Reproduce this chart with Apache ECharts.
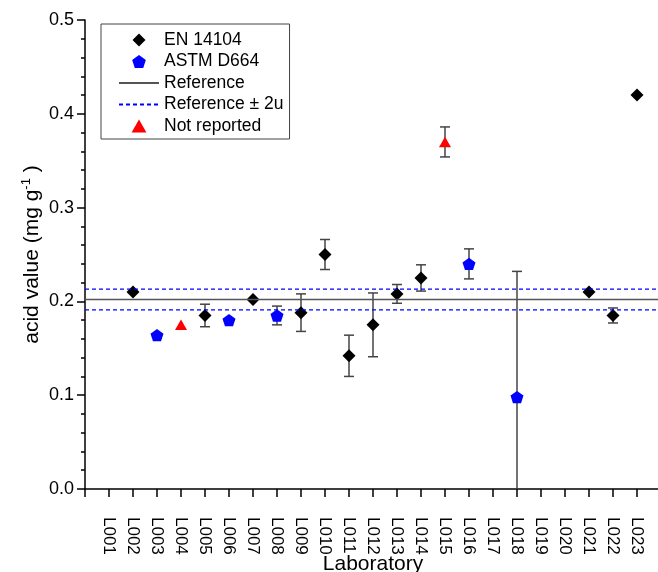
<!DOCTYPE html>
<html>
<head>
<meta charset="utf-8">
<script src="https://cdn.jsdelivr.net/npm/echarts@6/dist/echarts.min.js"></script>
<style>
  html, body { margin: 0; padding: 0; background: #fff; }
  #chart { width: 658px; height: 572px; }
</style>
</head>
<body>
<div id="chart"></div>
<script>
// Participating laboratories, in axis order
const labs = ['L001','L002','L003','L004','L005','L006','L007','L008','L009','L010','L011','L012',
              'L013','L014','L015','L016','L017','L018','L019','L020','L021','L022','L023'];

// Results by EN 14104 (value and expanded uncertainty, mg/g)
const enLabs   = ['L002','L005','L007','L009','L010','L011','L012','L013','L014','L021','L022','L023'];
const enValues = [0.210, 0.185, 0.202, 0.188, 0.250, 0.142, 0.175, 0.208, 0.225, 0.210, 0.185, 0.420];
const enU      = [0,     0.012, 0,     0.020, 0.016, 0.022, 0.034, 0.010, 0.014, 0,     0.008, 0];

// Results by ASTM D664
const astmLabs   = ['L003','L006','L008','L016','L018'];
const astmValues = [0.164, 0.180, 0.185, 0.240, 0.098];
const astmU      = [0,     0,     0.010, 0.016, 0.134];

// Method not reported
const nrLabs   = ['L004','L015'];
const nrValues = [0.175, 0.370];
const nrU      = [0,     0.016];

// Reference value and its expanded uncertainty (2u)
const refValue = 0.202;
const refU2 = 0.011;

// Axis range
const yMin = 0, yMax = 0.5, yStep = 0.1;
const xMin = 0, xMax = 24;

const FONT = '"Liberation Sans", Arial, sans-serif';

const SYM_DIAMOND  = 'path://M0,-1L1,0L0,1L-1,0Z';
const SYM_PENTAGON = 'path://M0,-1L0.951,-0.309L0.588,0.809L-0.588,0.809L-0.951,-0.309Z';
const SYM_TRIANGLE = 'path://M0,-1L1,0.75L-1,0.75Z';

const xOf = lab => labs.indexOf(lab) + 1;
const points = (labList, values) => labList.map((l, i) => [xOf(l), values[i]]);

// Error bars for every result that carries an uncertainty
const errData = [];
[[enLabs, enValues, enU], [astmLabs, astmValues, astmU], [nrLabs, nrValues, nrU]].forEach(([ls, vs, us]) => {
  ls.forEach((l, i) => { if (us[i] > 0) errData.push([xOf(l), vs[i], us[i]]); });
});

const chart = echarts.init(document.getElementById('chart'), null, { renderer: 'canvas' });

const axisLineStyle = { color: '#000', width: 1.5 };
const noSymbol = { color: 'rgba(0,0,0,0)' };

chart.setOption({
  animation: false,
  backgroundColor: '#fff',
  textStyle: { fontFamily: FONT },
  grid: { left: 85, top: 20, width: 576, height: 469, containLabel: false, outerBoundsMode: 'none' },
  legend: {
    left: 101, top: 24,
    orient: 'vertical',
    padding: [7, 6, 4, 17],
    itemGap: 3.5,
    itemWidth: 40,
    itemHeight: 13,
    borderColor: '#444',
    borderWidth: 1,
    textStyle: { fontFamily: FONT, fontSize: 17.5, color: '#000', lineHeight: 17 },
    data: ['EN 14104', 'ASTM D664', 'Reference', 'Reference ± 2u', 'Not reported']
  },
  xAxis: {
    type: 'value',
    min: xMin, max: xMax, interval: 1,
    name: 'Laboratory',
    nameLocation: 'middle',
    nameGap: 65,
    nameMoveOverlap: false,
    nameTextStyle: { fontFamily: FONT, fontSize: 21, color: '#000' },
    axisLine: { onZero: false, lineStyle: axisLineStyle },
    axisTick: { length: 8, lineStyle: axisLineStyle },
    axisLabel: {
      rotate: -90,
      margin: 28,
      fontFamily: FONT, fontSize: 17, color: '#000',
      formatter: v => (v >= 1 && v <= labs.length) ? labs[v - 1] : ''
    },
    splitLine: { show: false }
  },
  yAxis: {
    type: 'value',
    min: yMin, max: yMax, interval: yStep,
    name: 'acid value (mg g{sup|-1} )',
    nameLocation: 'middle',
    nameGap: 40,
    nameMoveOverlap: false,
    nameTextStyle: {
      fontFamily: FONT, fontSize: 21, color: '#000',
      rich: { sup: { fontFamily: FONT, fontSize: 13, color: '#000', verticalAlign: 'top', padding: [0, 0, 12, 0] } }
    },
    axisLine: { show: true, lineStyle: axisLineStyle },
    axisTick: { length: 8, lineStyle: axisLineStyle },
    minorTick: { show: true, splitNumber: 5, length: 4, lineStyle: axisLineStyle },
    axisLabel: {
      margin: 11,
      fontFamily: FONT, fontSize: 18, color: '#000',
      formatter: v => v.toFixed(1)
    },
    splitLine: { show: false },
    minorSplitLine: { show: false }
  },
  series: [
    {
      name: 'Reference', type: 'line', symbol: 'none', silent: true,
      lineStyle: { color: '#555', width: 1.5 },
      itemStyle: noSymbol,
      data: [[xMin, refValue], [xMax, refValue]]
    },
    {
      name: 'Reference ± 2u', type: 'line', symbol: 'none', silent: true,
      lineStyle: { color: '#0000ff', width: 1.2, type: [4, 3] },
      itemStyle: noSymbol,
      data: [[xMin, refValue + refU2], [xMax, refValue + refU2]]
    },
    {
      name: 'Reference ± 2u', type: 'line', symbol: 'none', silent: true,
      lineStyle: { color: '#0000ff', width: 1.2, type: [4, 3] },
      itemStyle: noSymbol,
      data: [[xMin, refValue - refU2], [xMax, refValue - refU2]]
    },
    {
      name: 'error', type: 'custom', clip: true, silent: true,
      encode: { x: 0, y: 1 },
      data: errData,
      renderItem: (params, api) => {
        const x = api.value(0), v = api.value(1), u = api.value(2);
        const top = api.coord([x, v + u]);
        const bot = api.coord([x, v - u]);
        const hw = 5;
        const style = { stroke: '#444', lineWidth: 1.5, fill: null };
        return {
          type: 'group',
          children: [
            { type: 'line', shape: { x1: top[0], y1: top[1], x2: bot[0], y2: bot[1] }, style },
            { type: 'line', shape: { x1: top[0] - hw, y1: top[1], x2: top[0] + hw, y2: top[1] }, style },
            { type: 'line', shape: { x1: bot[0] - hw, y1: bot[1], x2: bot[0] + hw, y2: bot[1] }, style }
          ]
        };
      }
    },
    {
      name: 'EN 14104', type: 'scatter',
      symbol: SYM_DIAMOND, symbolSize: 13, symbolKeepAspect: true,
      itemStyle: { color: '#000', opacity: 1 },
      data: points(enLabs, enValues)
    },
    {
      name: 'ASTM D664', type: 'scatter',
      symbol: SYM_PENTAGON, symbolSize: 13, symbolKeepAspect: true,
      itemStyle: { color: '#0000ff', opacity: 1 },
      data: points(astmLabs, astmValues)
    },
    {
      name: 'Not reported', type: 'scatter',
      symbol: SYM_TRIANGLE, symbolSize: 12, symbolKeepAspect: true,
      itemStyle: { color: '#ff0000', opacity: 1 },
      data: points(nrLabs, nrValues)
    }
  ]
});
</script>
</body>
</html>
